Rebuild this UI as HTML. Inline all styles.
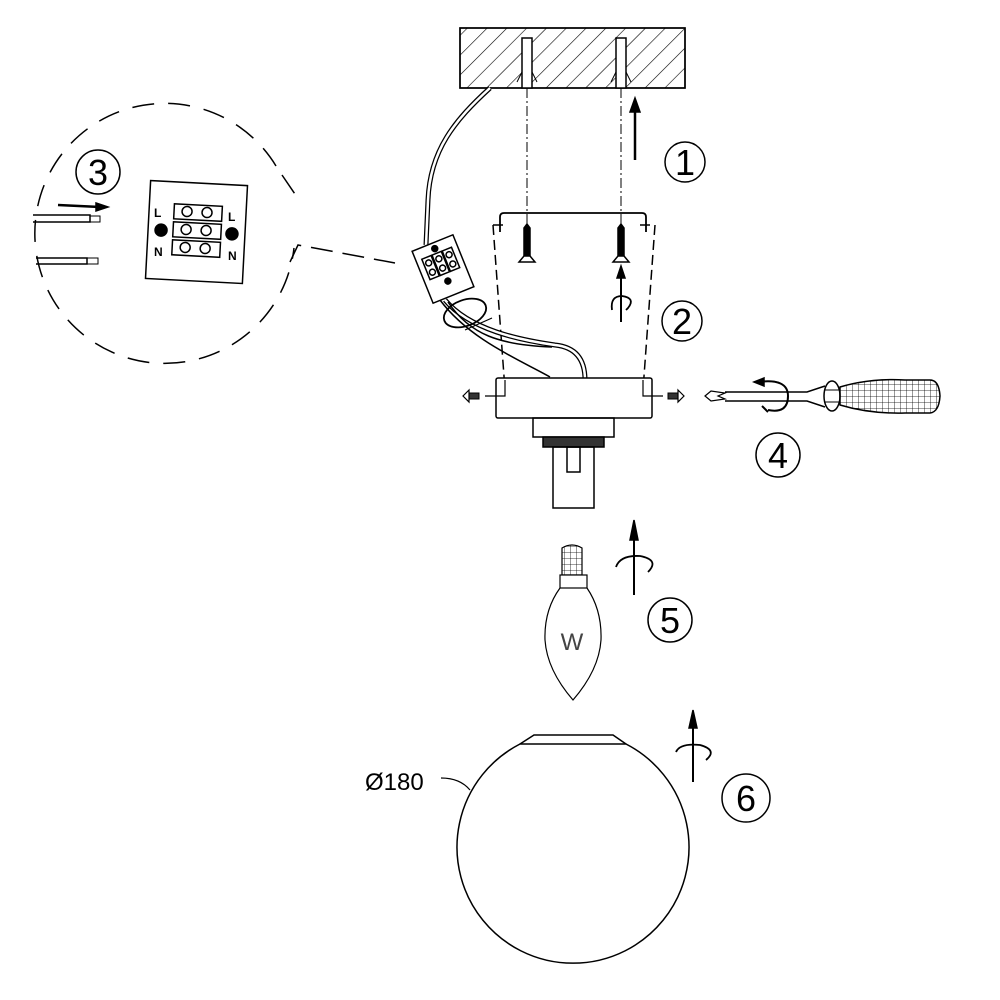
<!DOCTYPE html>
<html><head><meta charset="utf-8"><style>html,body{margin:0;padding:0;background:#fff}svg{display:block}</style></head>
<body>
<svg width="1000" height="1000" viewBox="0 0 1000 1000" xmlns="http://www.w3.org/2000/svg" font-family="Liberation Sans, DejaVu Sans, sans-serif">
<defs>
<pattern id="hatch" width="14" height="14" patternUnits="userSpaceOnUse" patternTransform="rotate(45)">
<line x1="0" y1="0" x2="0" y2="14" stroke="#000" stroke-width="1.2"/>
</pattern>
<pattern id="grid" width="6" height="6" patternUnits="userSpaceOnUse">
<path d="M0 0H6M0 0V6" stroke="#000" stroke-width="0.8" fill="none"/>
</pattern>
</defs>
<g fill="none" stroke="#000" stroke-width="1.5">
<rect x="460" y="28" width="225" height="60" fill="url(#hatch)"/>
<rect x="460" y="28" width="225" height="60"/>
<rect x="522" y="38" width="10" height="50" fill="#fff"/>
<rect x="616" y="38" width="10" height="50" fill="#fff"/>
<path d="M522 72 l-5 10 M532 72 l5 10 M616 72 l-5 10 M626 72 l5 10" stroke-width="1"/>
<path d="M527 88 V262 M621 88 V262" stroke-width="1" stroke-dasharray="10 3 2 3"/>
<line x1="635" y1="160" x2="635" y2="102" stroke-width="2.5"/>
<path d="M630 112 L635 98 L640 112 Z" fill="#000"/>
<path d="M490 88 C455 120 430 150 428 200 L426 245" stroke-width="5"/>
<path d="M490 88 C455 120 430 150 428 200 L426 245" stroke="#fff" stroke-width="2.5"/>
<path d="M500 232 V217 Q500 213 504 213 H642 Q646 213 646 217 V232" stroke-width="1.8"/>
<path d="M493 225 H508 M640 225 H655 M493 225 L505 390 M655 225 L643 390" stroke-dasharray="10 5"/>
<g fill="#000"><path d="M524 228 L527 224 L530 228 L530 256 L524 256 Z"/><path d="M618 228 L621 224 L624 228 L624 256 L618 256 Z"/></g>
<path d="M519 262 L535 262 L530 256 L524 256 Z M613 262 L629 262 L624 256 L618 256 Z" fill="#fff"/>
<line x1="621" y1="322" x2="621" y2="268" stroke-width="2"/>
<path d="M617 278 L621 266 L625 278 Z" fill="#000"/>
<path d="M612 310 Q610 296 622 296 Q636 298 628 308 L626 310" stroke-width="1.8"/>
<path d="M445 300 C470 330 520 340 555 345 Q585 348 585 380" stroke-width="5"/>
<path d="M445 300 C470 330 520 340 555 345 Q585 348 585 380" stroke="#fff" stroke-width="2.5"/>
<path d="M440 300 C470 340 520 360 550 377 M448 302 C470 335 500 345 552 347" stroke-width="1.5"/>
<ellipse cx="465" cy="313" rx="22" ry="13" transform="rotate(-20 465 313)" stroke-width="1.8"/>
<path d="M465 330 L492 318" stroke-width="1.2"/>
<g transform="rotate(-22 443 269)">
<rect x="421" y="241" width="44" height="56" fill="#fff"/>
<rect x="427" y="252" width="10" height="22"/><rect x="438" y="252" width="10" height="22"/><rect x="449" y="252" width="10" height="22"/>
<circle cx="432" cy="258" r="3"/><circle cx="443" cy="258" r="3"/><circle cx="454" cy="258" r="3"/>
<circle cx="432" cy="268" r="3"/><circle cx="443" cy="268" r="3"/><circle cx="454" cy="268" r="3"/>
<circle cx="443" cy="247" r="3" fill="#000"/><circle cx="443" cy="282" r="3" fill="#000"/>
</g>
<rect x="496" y="378" width="156" height="40" rx="2" fill="#fff"/>
<path d="M505 380 V396 H485 M643 380 V396 H663" stroke-width="1.2"/>
<rect x="533" y="418" width="81" height="19"/>
<rect x="543" y="437" width="61" height="10" fill="#333"/>
<rect x="553" y="447" width="41" height="61"/>
<rect x="567" y="447" width="13" height="25"/>
<g fill="#333" stroke-width="1"><rect x="469" y="393" width="10" height="6"/><rect x="668" y="393" width="10" height="6"/></g>
<path d="M469 390 L463 396 L469 402 Z M678 390 L684 396 L678 402 Z" stroke-width="1.2"/>
<path d="M705 396 L711 391 L725 393 L718 396 L725 399 L711 401 Z" stroke-width="1.2"/>
<path d="M725 392 H807 L825 386 M725 401 H807 L825 407" stroke-width="1.5"/>
<ellipse cx="832" cy="396" rx="8" ry="15" fill="#fff"/>
<path d="M825 390 H840 M825 402 H840" stroke-width="1"/>
<path d="M840 387 Q870 378 905 380 H930 Q939 380 940 396 Q939 412 930 413 H905 Q870 414 840 405 Z" fill="url(#grid)"/>
<path d="M758 382 Q788 378 788 396 Q788 414 768 410" stroke-width="2"/>
<path d="M754 382 L764 378 L764 386 Z" fill="#000"/>
<path d="M762 406 L768 412" stroke-width="2"/>
<line x1="634" y1="595" x2="634" y2="528" stroke-width="2"/>
<path d="M630 540 L634 520 L638 540 Z" fill="#000"/>
<path d="M616 567 Q620 555 640 556 Q660 560 648 572" stroke-width="1.8"/>
<path d="M562 548 Q572 542 582 548 V575 H562 Z" fill="url(#grid)" stroke-width="1.2"/>
<rect x="560" y="575" width="27" height="13" fill="#fff" stroke-width="1.2"/>
<path d="M560 588 Q544 610 545 640 Q547 670 573 700 Q599 670 601 640 Q602 610 587 588" stroke-width="1.2"/>
<line x1="693" y1="782" x2="693" y2="718" stroke-width="2"/>
<path d="M689 728 L693 710 L697 728 Z" fill="#000"/>
<path d="M676 752 Q680 743 700 745 Q718 750 706 760" stroke-width="1.8"/>
<path d="M520 744 A116 116 0 1 0 626 744 Z" stroke-width="1.5"/>
<path d="M520 744 L534 735 H613 L626 744" stroke-width="1.5"/>
<path d="M441 778 Q460 778 470 790" stroke-width="1.2"/>
<path d="M276 166 A130 130 0 1 0 294 248" stroke-dasharray="22 14" stroke-width="1.5"/>
<path d="M282 175 L297 197 M290 262 L298 245 L395 263" stroke-dasharray="22 10" stroke-width="1.5"/>
<g transform="rotate(3 196 232)">
<rect x="148" y="183" width="97" height="98"/>
<rect x="173" y="205" width="48" height="15"/><rect x="173" y="223" width="48" height="15"/><rect x="173" y="241" width="48" height="15"/>
<circle cx="186" cy="212" r="5"/><circle cx="206" cy="212" r="5"/>
<circle cx="186" cy="230" r="5"/><circle cx="206" cy="230" r="5"/>
<circle cx="186" cy="248" r="5"/><circle cx="206" cy="248" r="5"/>
<circle cx="161" cy="232" r="6" fill="#000"/><circle cx="232" cy="232" r="6" fill="#000"/>
</g>
<path d="M33 215 H90 V222 H33 M36 258 H87 V264 H36" stroke-width="1.5"/>
<path d="M90 216 H100 V222 H90 M87 258 H98 V264 H87" stroke-width="1"/>
<line x1="58" y1="205" x2="100" y2="207" stroke-width="2.5"/>
<path d="M96 203 L108 207 L96 211 Z" fill="#000"/>
<circle cx="685" cy="162" r="20"/>
<circle cx="682" cy="321" r="20"/>
<circle cx="98" cy="172" r="22"/>
<circle cx="778" cy="455" r="22"/>
<circle cx="670" cy="620" r="22"/>
<circle cx="746" cy="798" r="24"/>
</g>
<g font-size="36" text-anchor="middle" fill="#000">
<text x="685" y="175">1</text>
<text x="682" y="334">2</text>
<text x="98" y="185">3</text>
<text x="778" y="468">4</text>
<text x="670" y="633">5</text>
<text x="746" y="811">6</text>
</g>
<text x="572" y="650" font-size="24" text-anchor="middle" fill="#444">W</text>
<text x="365" y="790" font-size="24" fill="#000">Ø180</text>
<g font-size="12" font-weight="bold" fill="#000">
<text x="154" y="217">L</text><text x="154" y="256">N</text>
<text x="228" y="221">L</text><text x="228" y="260">N</text>
</g>
</svg>
</body></html>
